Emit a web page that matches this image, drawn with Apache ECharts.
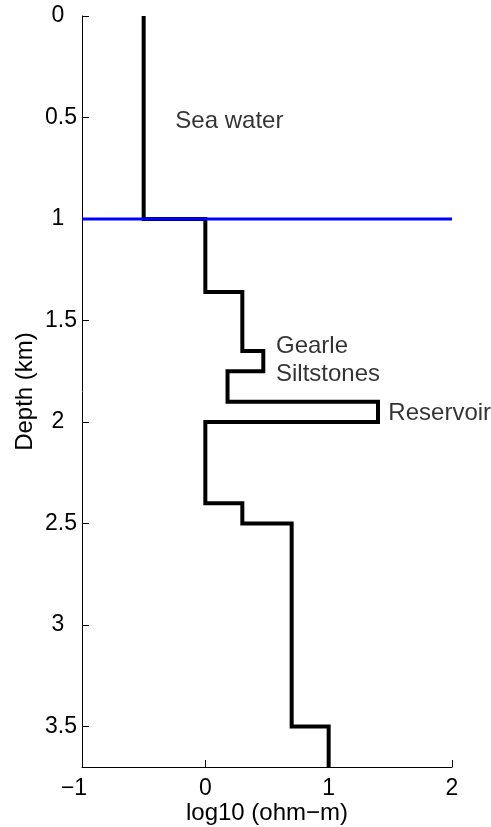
<!DOCTYPE html>
<html>
<head>
<meta charset="utf-8">
<script src="https://cdn.jsdelivr.net/npm/echarts@6/dist/echarts.min.js"></script>
<style>
  html, body { margin: 0; padding: 0; background: #fff; }
  #chart { width: 491px; height: 827px; }
</style>
</head>
<body>
<div id="chart"></div>
<script>
// Layered resistivity model: layer boundaries (km) and log10 resistivity per layer
const layerDepths = [0, 1, 1.36, 1.65, 1.75, 1.9, 2.0, 2.4, 2.5, 3.5, 3.7];
const logResistivity = [-0.5, 0, 0.3, 0.47, 0.18, 1.4, 0, 0.3, 0.7, 1.0];
const seafloorDepth = 1;

const xTicks = [-1, 0, 1, 2];
const yTicks = [0, 0.5, 1, 1.5, 2, 2.5, 3, 3.5];

const annotations = [
  { text: 'Sea water', x: -0.243, depth: 0.52 },
  { text: 'Gearle', x: 0.573, depth: 1.626 },
  { text: 'Siltstones', x: 0.573, depth: 1.764 },
  { text: 'Reservoir', x: 1.484, depth: 1.956 }
];

// Step profile: each layer is a vertical segment at its resistivity
const profile = [];
for (let i = 0; i < logResistivity.length; i++) {
  profile.push([logResistivity[i], layerDepths[i]]);
  profile.push([logResistivity[i], layerDepths[i + 1]]);
}

const FONT = "'Liberation Sans', Arial, Helvetica, sans-serif";
const TXT = '#000';

const chart = echarts.init(document.getElementById('chart'));
chart.setOption({
  animation: false,
  backgroundColor: '#fff',
  grid: { left: 82, right: 39, top: 16, bottom: 60, containLabel: false, outerBoundsMode: 'none' },
  xAxis: {
    type: 'value',
    min: -1, max: 2, interval: 1,
    name: 'log10 (ohm\u2212m)',
    nameLocation: 'middle',
    nameGap: 34,
    nameMoveOverlap: false,
    nameTextStyle: { fontFamily: FONT, fontSize: 24, color: TXT },
    axisLine: { show: true, onZero: false, lineStyle: { color: '#000', width: 1 } },
    axisTick: { show: true, inside: true, length: 7, lineStyle: { color: '#000' }, customValues: xTicks },
    axisLabel: {
      fontFamily: FONT, fontSize: 23, color: TXT, margin: 10,
      customValues: xTicks,
      formatter: v => v < 0 ? '{neg|\u2212' + Math.abs(v) + '}' : String(v),
      rich: { neg: { fontFamily: FONT, fontSize: 23, color: TXT, padding: [0, 16, 0, 0] } }
    },
    splitLine: { show: false }
  },
  yAxis: {
    type: 'value',
    inverse: true,
    min: 0, max: 3.7,
    name: 'Depth (km)',
    nameLocation: 'middle',
    nameGap: 45,
    nameMoveOverlap: false,
    nameTextStyle: { fontFamily: FONT, fontSize: 24, color: TXT },
    axisLine: { show: true, onZero: false, lineStyle: { color: '#000', width: 1 } },
    axisTick: { show: true, inside: true, length: 7, lineStyle: { color: '#000' }, customValues: yTicks },
    axisLabel: {
      fontFamily: FONT, fontSize: 23, color: TXT, margin: 5,
      customValues: yTicks,
      formatter: v => (v % 1 === 0 ? String(v) + '  ' : String(v))
    },
    splitLine: { show: false }
  },
  series: [
    {
      type: 'line',
      data: profile,
      symbol: 'none',
      lineStyle: { color: '#000', width: 4, join: 'miter', cap: 'butt' },
      z: 2
    },
    {
      type: 'line',
      data: [[-1, seafloorDepth], [2, seafloorDepth]],
      symbol: 'none',
      lineStyle: { color: '#0000ff', width: 3 },
      z: 3
    },
    {
      type: 'scatter',
      data: annotations.map(a => ({ value: [a.x, a.depth], name: a.text })),
      symbolSize: 0,
      silent: true,
      label: {
        show: true,
        position: 'inside',
        align: 'left',
        verticalAlign: 'middle',
        formatter: p => p.name,
        fontFamily: FONT, fontSize: 24, color: TXT
      },
      z: 4
    }
  ]
});
</script>
</body>
</html>
